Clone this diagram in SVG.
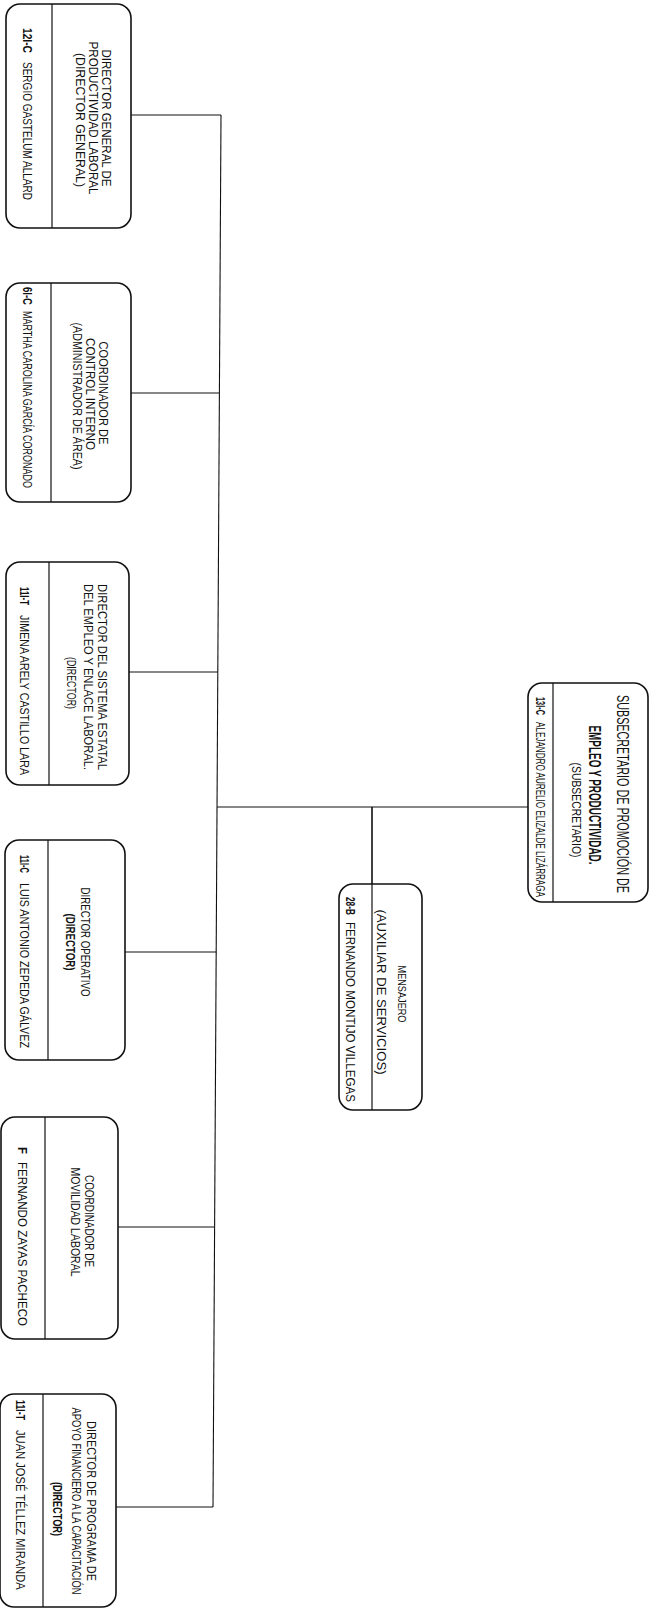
<svg xmlns="http://www.w3.org/2000/svg" width="655" height="1613" viewBox="0 0 655 1613">
<style>
.box{fill:#fff;stroke:#111;stroke-width:1.6}
.dv{stroke:#111;stroke-width:1.2}
.ln{stroke:#111;stroke-width:1.1;fill:none}
text{font-family:"Liberation Sans",Arial,sans-serif;fill:#111;dominant-baseline:central}
.t{font-size:12.5px;text-anchor:middle}
.tB{font-size:12.5px;font-weight:bold;text-anchor:middle}
.ts{font-size:11px;text-anchor:middle}
.tb{font-size:16px;text-anchor:middle}
.tbb{font-size:16px;font-weight:bold;text-anchor:middle}
.n{font-size:13px;text-anchor:start}
.c{font-size:13px;font-weight:bold;text-anchor:start}
</style>
<rect width="655" height="1613" fill="#fff"/>
<g id="connectors">
<line class="ln" x1="221" y1="115" x2="213" y2="1507"/>
<line class="ln" x1="131" y1="115" x2="221" y2="115"/>
<line class="ln" x1="131" y1="393" x2="219.4" y2="393"/>
<line class="ln" x1="129" y1="672" x2="217.8" y2="672"/>
<line class="ln" x1="125" y1="952" x2="216.2" y2="952"/>
<line class="ln" x1="118" y1="1227" x2="214.6" y2="1227"/>
<line class="ln" x1="116" y1="1507" x2="213" y2="1507"/>
<line class="ln" x1="217" y1="807" x2="528" y2="807"/>
<line class="ln" x1="372" y1="807" x2="372" y2="884" style="stroke-width:1.6"/>
</g>
<g id="n-subsecretario">
<rect class="box" x="528" y="683" width="120" height="219" rx="14"/>
<line class="dv" x1="553" y1="683" x2="553" y2="902"/>
<text class="tb" transform="translate(622,794) rotate(90)" textLength="198" lengthAdjust="spacingAndGlyphs">SUBSECRETARIO DE PROMOCIÓN DE</text>
<text class="tbb" transform="translate(594,795) rotate(90)" textLength="139" lengthAdjust="spacingAndGlyphs">EMPLEO Y PRODUCTIVIDAD.</text>
<text class="t" transform="translate(576,810) rotate(90)" textLength="95" lengthAdjust="spacingAndGlyphs">(SUBSECRETARIO)</text>
<text class="c" transform="translate(540,697) rotate(90)" textLength="18" lengthAdjust="spacingAndGlyphs" style="font-size:12px">13I-C</text>
<text class="n" transform="translate(540,722) rotate(90)" textLength="175" lengthAdjust="spacingAndGlyphs" style="font-size:12px">ALEJANDRO AURELIO ELIZALDE LIZÁRRAGA</text>
</g>
<g id="n-mensajero">
<rect class="box" x="339" y="884" width="83" height="226" rx="14"/>
<line class="dv" x1="372" y1="884" x2="372" y2="1110"/>
<text class="ts" transform="translate(402,994) rotate(90)" textLength="57" lengthAdjust="spacingAndGlyphs">MENSAJERO</text>
<text class="t" transform="translate(381,992) rotate(90)" textLength="165" lengthAdjust="spacingAndGlyphs">(AUXILIAR DE SERVICIOS)</text>
<text class="c" transform="translate(350,897) rotate(90)" textLength="18" lengthAdjust="spacingAndGlyphs">28-B</text>
<text class="n" transform="translate(350,922) rotate(90)" textLength="180" lengthAdjust="spacingAndGlyphs">FERNANDO MONTIJO VILLEGAS</text>
</g>
<g id="n-director-general">
<rect class="box" x="6" y="4" width="125" height="224" rx="14"/>
<line class="dv" x1="52" y1="4" x2="52" y2="228"/>
<text class="t" transform="translate(106,118) rotate(90)" textLength="137" lengthAdjust="spacingAndGlyphs">DIRECTOR GENERAL DE</text>
<text class="t" transform="translate(93,118) rotate(90)" textLength="153" lengthAdjust="spacingAndGlyphs">PRODUCTIVIDAD LABORAL</text>
<text class="t" transform="translate(80,120) rotate(90)" textLength="134" lengthAdjust="spacingAndGlyphs">(DIRECTOR GENERAL)</text>
<text class="c" transform="translate(27,28) rotate(90)" textLength="25" lengthAdjust="spacingAndGlyphs">12I-C</text>
<text class="n" transform="translate(27,62) rotate(90)" textLength="138" lengthAdjust="spacingAndGlyphs">SERGIO GASTELUM ALLARD</text>
</g>
<g id="n-control-interno">
<rect class="box" x="6" y="283" width="125" height="219" rx="14"/>
<line class="dv" x1="51" y1="283" x2="51" y2="502"/>
<text class="t" transform="translate(103,393) rotate(90)" textLength="103" lengthAdjust="spacingAndGlyphs">COORDINADOR DE</text>
<text class="t" transform="translate(90,394) rotate(90)" textLength="112" lengthAdjust="spacingAndGlyphs">CONTROL INTERNO</text>
<text class="t" transform="translate(77,396) rotate(90)" textLength="147" lengthAdjust="spacingAndGlyphs">(ADMINISTRADOR DE ÁREA)</text>
<text class="c" transform="translate(27,287) rotate(90)" textLength="18" lengthAdjust="spacingAndGlyphs">6I-C</text>
<text class="n" transform="translate(27,311) rotate(90)" textLength="177" lengthAdjust="spacingAndGlyphs">MARTHA CAROLINA GARCÍA CORONADO</text>
</g>
<g id="n-sistema-estatal">
<rect class="box" x="6" y="562" width="123" height="223" rx="14"/>
<line class="dv" x1="49" y1="562" x2="49" y2="785"/>
<text class="t" transform="translate(102,677) rotate(90)" textLength="186" lengthAdjust="spacingAndGlyphs">DIRECTOR DEL SISTEMA ESTATAL</text>
<text class="t" transform="translate(88,677) rotate(90)" textLength="186" lengthAdjust="spacingAndGlyphs">DEL EMPLEO Y ENLACE LABORAL.</text>
<text class="t" transform="translate(71,683) rotate(90)" textLength="52" lengthAdjust="spacingAndGlyphs">(DIRECTOR)</text>
<text class="c" transform="translate(24,587) rotate(90)" textLength="18" lengthAdjust="spacingAndGlyphs">11I-T</text>
<text class="n" transform="translate(24,615) rotate(90)" textLength="160" lengthAdjust="spacingAndGlyphs">JIMENA ARELY CASTILLO LARA</text>
</g>
<g id="n-operativo">
<rect class="box" x="5" y="840" width="120" height="220" rx="14"/>
<line class="dv" x1="48" y1="840" x2="48" y2="1060"/>
<text class="t" transform="translate(85,942) rotate(90)" textLength="109" lengthAdjust="spacingAndGlyphs">DIRECTOR OPERATIVO</text>
<text class="tB" transform="translate(70,942) rotate(90)" textLength="57" lengthAdjust="spacingAndGlyphs">(DIRECTOR)</text>
<text class="c" transform="translate(24,855) rotate(90)" textLength="18" lengthAdjust="spacingAndGlyphs">11I-C</text>
<text class="n" transform="translate(24,883) rotate(90)" textLength="165" lengthAdjust="spacingAndGlyphs">LUIS ANTONIO ZEPEDA GÁLVEZ</text>
</g>
<g id="n-movilidad">
<rect class="box" x="1" y="1117" width="117" height="222" rx="14"/>
<line class="dv" x1="45" y1="1117" x2="45" y2="1339"/>
<text class="t" transform="translate(89,1221) rotate(90)" textLength="92" lengthAdjust="spacingAndGlyphs">COORDINADOR DE</text>
<text class="t" transform="translate(75,1222) rotate(90)" textLength="109" lengthAdjust="spacingAndGlyphs">MOVILIDAD LABORAL</text>
<text class="c" transform="translate(22,1147) rotate(90)" textLength="7" lengthAdjust="spacingAndGlyphs">F</text>
<text class="n" transform="translate(22,1162) rotate(90)" textLength="164" lengthAdjust="spacingAndGlyphs">FERNANDO ZAYAS PACHECO</text>
</g>
<g id="n-apoyo-financiero">
<rect class="box" x="0" y="1394" width="116" height="213" rx="14"/>
<line class="dv" x1="43" y1="1394" x2="43" y2="1607"/>
<text class="t" transform="translate(91,1501) rotate(90)" textLength="160" lengthAdjust="spacingAndGlyphs">DIRECTOR DE PROGRAMA DE</text>
<text class="t" transform="translate(77,1501) rotate(90) scale(0.752,1)">APOYO FINANCIERO A LA CAPACITACIÓN</text>
<text class="tB" transform="translate(57,1509) rotate(90)" textLength="54" lengthAdjust="spacingAndGlyphs">(DIRECTOR)</text>
<text class="c" transform="translate(20,1400) rotate(90)" textLength="20" lengthAdjust="spacingAndGlyphs">11I-T</text>
<text class="n" transform="translate(20,1430) rotate(90) scale(0.858,1)">JUAN JOSÉ TÉLLEZ MIRANDA</text>
</g>
</svg>
